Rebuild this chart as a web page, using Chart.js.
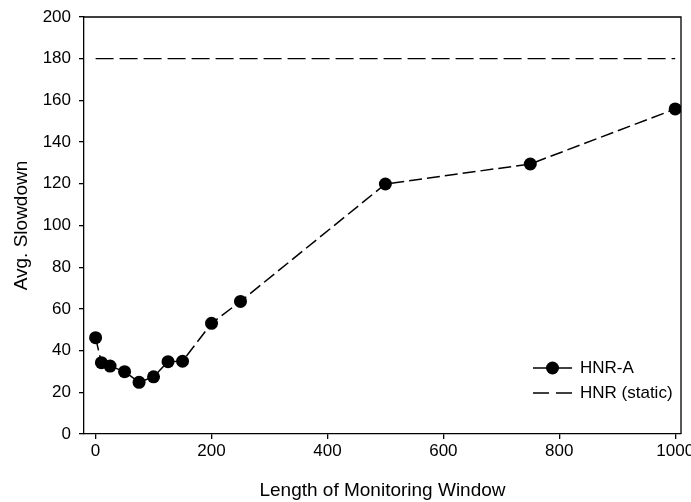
<!DOCTYPE html>
<html>
<head>
<meta charset="utf-8">
<script src="https://cdn.jsdelivr.net/npm/chart.js@4/dist/chart.umd.min.js"></script>
<style>
    html, body { margin: 0; padding: 0; background: #ffffff; }
    #wrap { width: 691px; height: 502px; }
</style>
</head>
<body>
<div id="wrap"><canvas id="slowdownChart" width="691" height="502"></canvas></div>
<script>
// dados
const windowLengths = [0, 10, 25, 50, 75, 100, 125, 150, 200, 250, 500, 750, 1000];
const hnrA = [46.2, 34.2, 32.6, 29.9, 24.8, 27.4, 34.7, 34.9, 53.1, 63.6, 119.9, 129.5, 155.9];
const staticX = [0, 1000];
const staticY = [180, 180];
const xTicks = [0, 200, 400, 600, 800, 1000];
const yTicks = [0, 20, 40, 60, 80, 100, 120, 140, 160, 180, 200];
const seriesNames = ['HNR-A', 'HNR (static)'];

const fonte = "'Liberation Sans', Arial, sans-serif";
const estiloTicks = { color: '#000000', font: { family: fonte, size: 17 } };
const estiloTitulo = { color: '#000000', font: { family: fonte, size: 19 } };

// moldura superior e direita
const moldura = {
    id: 'moldura',
    afterDraw(chart) {
        const { ctx, chartArea: a } = chart;
        ctx.save();
        ctx.strokeStyle = '#000000';
        ctx.lineWidth = 1.3;
        ctx.beginPath();
        ctx.moveTo(a.left, a.top);
        ctx.lineTo(a.right, a.top);
        ctx.lineTo(a.right, a.bottom);
        ctx.stroke();
        ctx.restore();
    }
};

// legenda dentro da area do grafico
const legendaInterna = {
    id: 'legendaInterna',
    afterDraw(chart) {
        const { ctx } = chart;
        const ds = chart.data.datasets;
        const x0 = 533, x1 = 572, yBase = 368, passo = 25;
        ctx.save();
        ctx.font = `17px ${fonte}`;
        ctx.fillStyle = '#000000';
        ctx.textBaseline = 'middle';
        ds.forEach((d, i) => {
            const y = yBase + i * passo;
            ctx.strokeStyle = '#000000';
            ctx.lineWidth = 1.5;
            ctx.setLineDash(i === 0 ? [] : [16, 7]);
            ctx.beginPath();
            ctx.moveTo(x0, y);
            ctx.lineTo(x1, y);
            ctx.stroke();
            ctx.setLineDash([]);
            if (d.pointRadius > 0) {
                ctx.beginPath();
                ctx.arc((x0 + x1) / 2, y, d.pointRadius, 0, Math.PI * 2);
                ctx.fill();
            }
            ctx.fillText(d.label, 580, y);
        });
        ctx.restore();
    }
};

new Chart(document.getElementById('slowdownChart'), {
    type: 'scatter',
    data: {
        datasets: [
            {
                label: seriesNames[0],
                data: windowLengths.map((x, i) => ({ x: x, y: hnrA[i] })),
                showLine: true,
                borderColor: '#000000',
                borderWidth: 1.5,
                borderDash: [13, 5],
                pointRadius: 6.5,
                pointBackgroundColor: '#000000',
                pointBorderColor: '#000000',
                pointBorderWidth: 0
            },
            {
                label: seriesNames[1],
                data: staticX.map((x, i) => ({ x: x, y: staticY[i] })),
                showLine: true,
                borderColor: '#000000',
                borderWidth: 1.3,
                borderDash: [18, 6],
                pointRadius: 0
            }
        ]
    },
    options: {
        responsive: false,
        animation: false,
        layout: { padding: { top: 17, right: 10, left: 0, bottom: 0 } },
        plugins: {
            legend: { display: false },
            tooltip: { enabled: false }
        },
        scales: {
            x: {
                type: 'linear',
                min: -20,
                max: 1010,
                afterBuildTicks: (s) => { s.ticks = xTicks.map(v => ({ value: v })); },
                afterFit: (s) => { s.height = 68; s.paddingLeft = 0; s.paddingRight = 0; },
                grid: { drawOnChartArea: false, drawTicks: true, tickLength: 5, color: '#000000', lineWidth: 1.3 },
                border: { display: true, color: '#000000', width: 1.3 },
                ticks: { ...estiloTicks, padding: 2, maxRotation: 0, autoSkip: false, callback: (v) => String(v) },
                title: { display: true, text: 'Length of Monitoring Window', ...estiloTitulo, padding: { top: 0, bottom: 0 } }
            },
            y: {
                type: 'linear',
                min: 0,
                max: 200,
                afterBuildTicks: (s) => { s.ticks = yTicks.map(v => ({ value: v })); },
                afterFit: (s) => { s.width = 84; s.paddingTop = 0; s.paddingBottom = 0; },
                grid: { drawOnChartArea: false, drawTicks: true, tickLength: 5, color: '#000000', lineWidth: 1.3 },
                border: { display: true, color: '#000000', width: 1.3 },
                ticks: { ...estiloTicks, padding: 8, autoSkip: false, callback: (v) => String(v) },
                title: { display: true, text: 'Avg. Slowdown', ...estiloTitulo, padding: { top: 10, bottom: 0 } }
            }
        }
    },
    plugins: [moldura, legendaInterna]
});
</script>
</body>
</html>
